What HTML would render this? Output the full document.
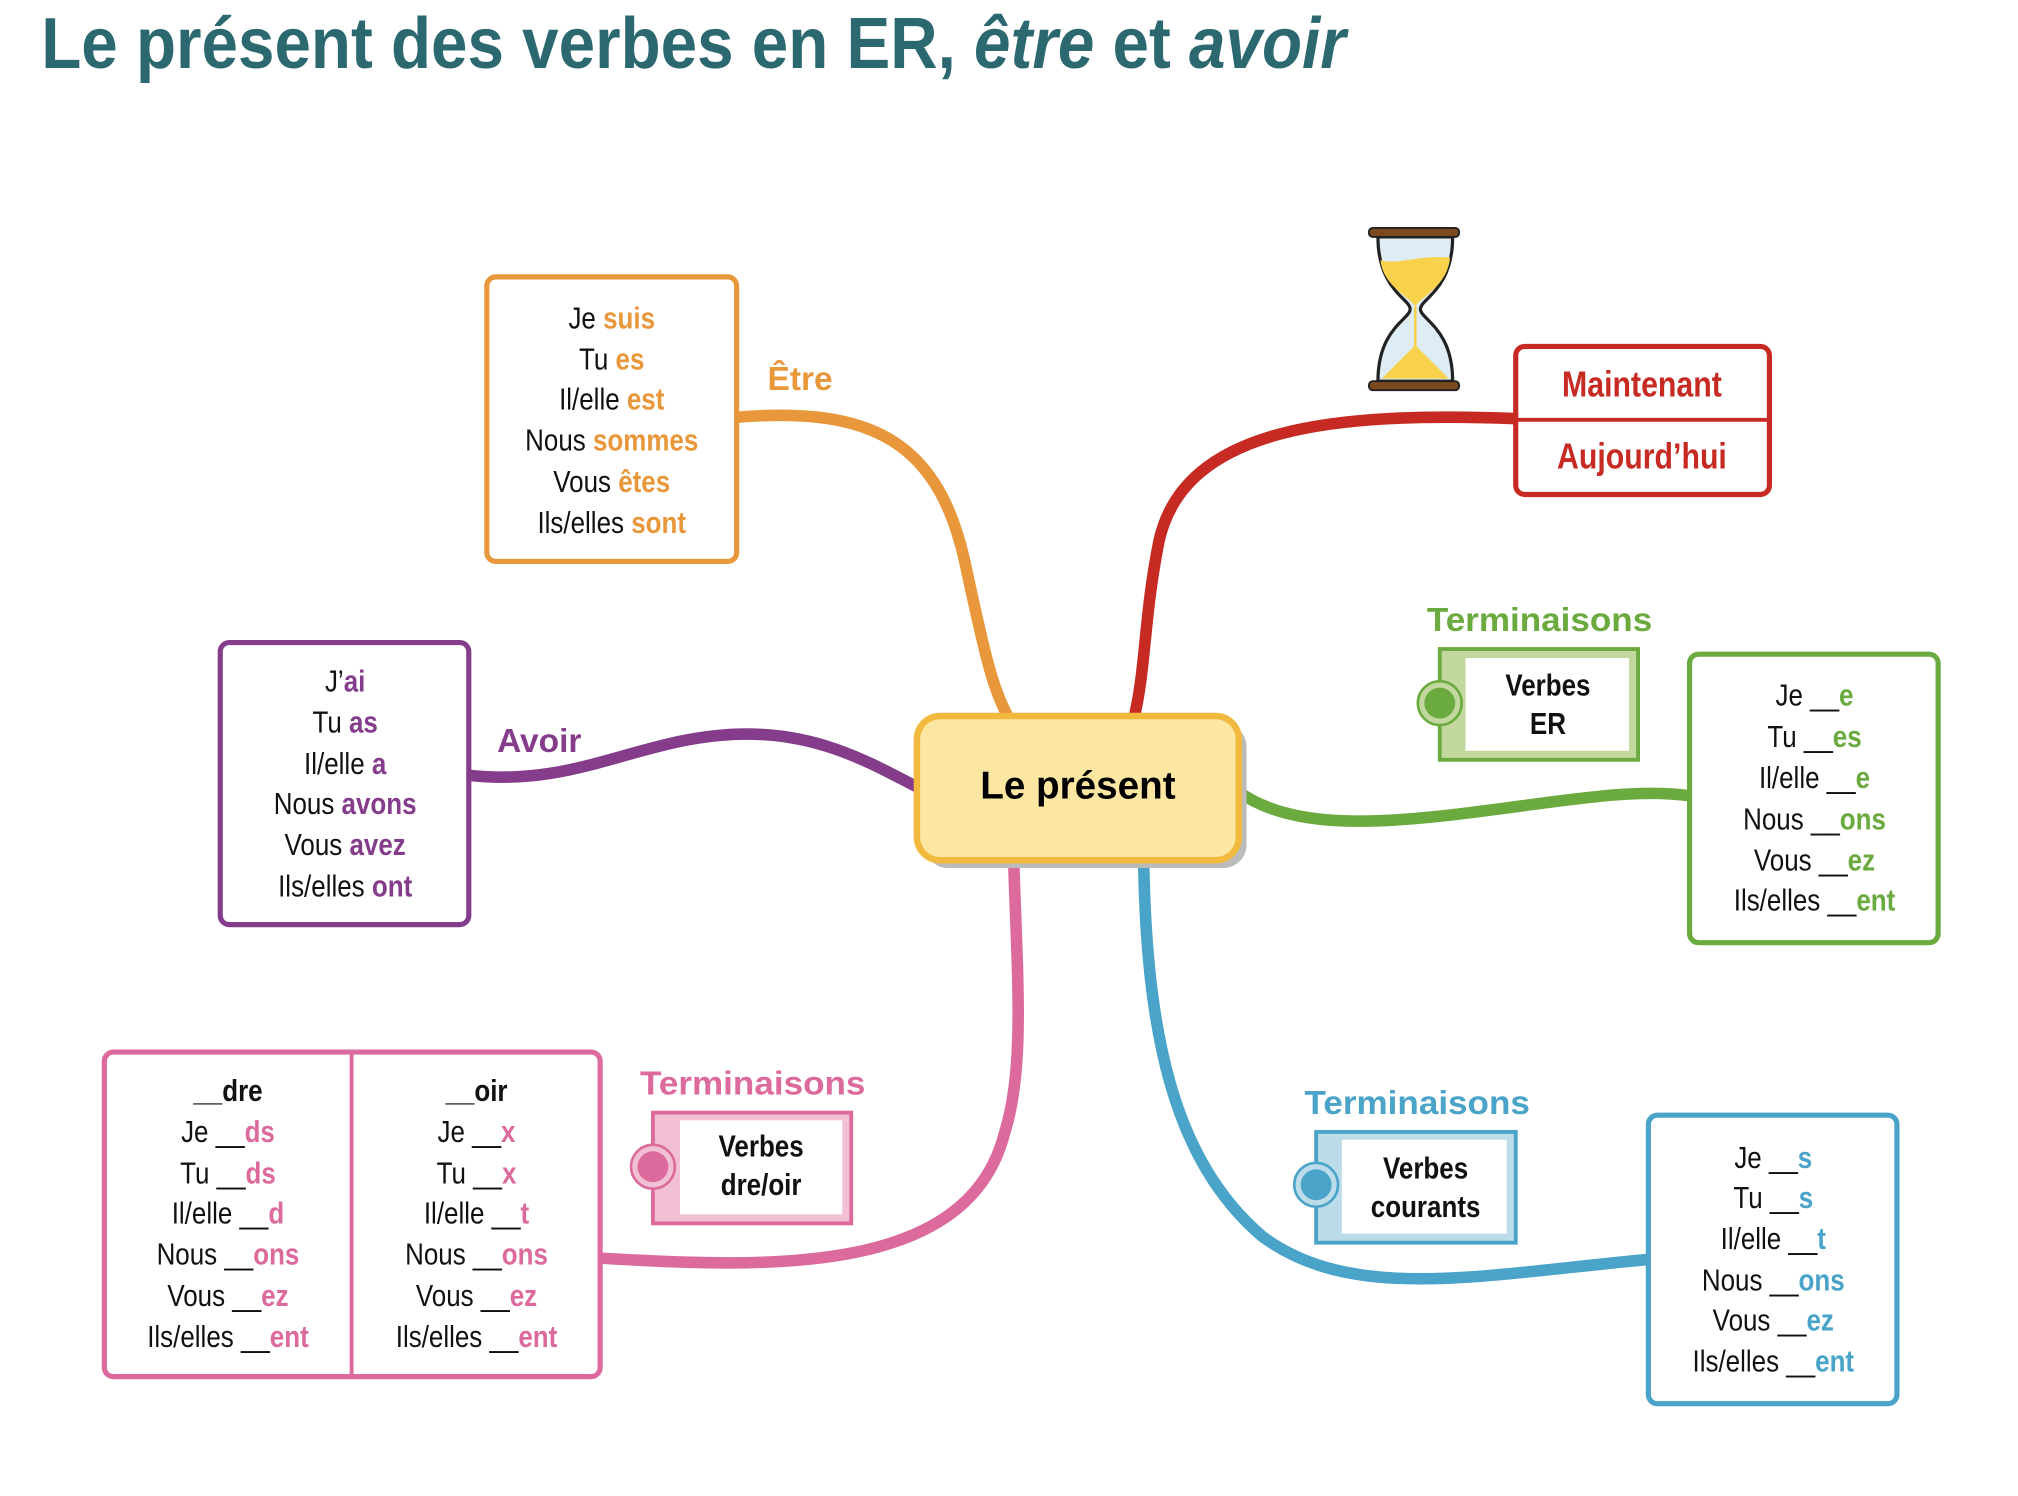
<!DOCTYPE html>
<html><head><meta charset="utf-8"><style>
html,body{margin:0;padding:0;background:#fff;}
svg{display:block;}
.c{font-family:"Liberation Sans",sans-serif;font-size:24px;text-anchor:middle;fill:#111;}
.b{font-weight:bold;}
.lab{font-family:"Liberation Sans",sans-serif;font-weight:bold;font-size:26px;}
</style></head><body>
<svg width="2018" height="1496" viewBox="0 0 1567 1161.7" xmlns="http://www.w3.org/2000/svg">
<rect width="1567" height="1162" fill="#fff"/>
<text x="32" y="53" font-family="Liberation Sans, sans-serif" font-weight="bold" font-size="56" fill="#2b6870" textLength="1013" lengthAdjust="spacingAndGlyphs">Le présent des verbes en ER, <tspan font-style="italic">être</tspan> et <tspan font-style="italic">avoir</tspan></text>

<g fill="none" stroke-width="9" stroke-linecap="round">
<path d="M572,324 C680,315 730,345 750,440 C765,510 772,540 785,560" stroke="#e8973a"/>
<path d="M1176,325 C1040,320 920,330 900,420 C888,480 890,520 880,560" stroke="#c62a22"/>
<path d="M364,602 C450,612 500,570 580,570 C640,570 680,595 714,612" stroke="#853d8b"/>
<path d="M962,615 C1000,642 1060,642 1150,630 C1220,621 1270,612 1312,618" stroke="#6aaa3f"/>
<path d="M787,665 C790,760 796,830 780,880 C752,990 600,985 466,977" stroke="#dc6a9c"/>
<path d="M888,665 C890,800 910,900 980,960 C1050,1012 1150,990 1280,978" stroke="#4aa3c8"/>
</g>

<rect x="718" y="562" width="250" height="112" rx="18" fill="#bbb"/>
<rect x="712" y="556" width="250" height="112" rx="18" fill="#fbe7a1" stroke="#f1b93e" stroke-width="5"/>
<text x="837" y="620" font-family="Liberation Sans, sans-serif" font-weight="bold" font-size="30" text-anchor="middle" fill="#000">Le présent</text>

<rect x="378" y="215" width="194" height="221" rx="7" fill="#fff" stroke="#e8973a" stroke-width="4"/>
<g class="c" transform="translate(475,0) scale(0.84,1)">
<text x="0" y="255">Je <tspan class="b" fill="#e8973a">suis</tspan></text>
<text x="0" y="287">Tu <tspan class="b" fill="#e8973a">es</tspan></text>
<text x="0" y="318">Il/elle <tspan class="b" fill="#e8973a">est</tspan></text>
<text x="0" y="350">Nous <tspan class="b" fill="#e8973a">sommes</tspan></text>
<text x="0" y="382">Vous <tspan class="b" fill="#e8973a">êtes</tspan></text>
<text x="0" y="414">Ils/elles <tspan class="b" fill="#e8973a">sont</tspan></text>
</g>
<text x="596" y="303" class="lab" fill="#e8973a">Être</text>

<path d="M1070,184 C1070,225 1095,232 1095,240 C1095,248 1070,255 1070,296 L1128,296 C1128,255 1103,248 1103,240 C1103,232 1128,225 1128,184 Z" fill="#deedf5" stroke="#222" stroke-width="2.5"/>
<path d="M1072,202 C1085,206 1100,198 1126,200 C1124,222 1104,230 1099,238 C1094,230 1074,222 1072,202 Z" fill="#f7d24a"/>
<path d="M1099,238 L1099,272" stroke="#f7d24a" stroke-width="2"/>
<path d="M1073,294 L1099,268 L1125,294 Z" fill="#f7d24a"/>
<rect x="1063" y="177" width="70" height="7" rx="3" fill="#7a4a1e" stroke="#222" stroke-width="1.5"/>
<rect x="1063" y="296" width="70" height="7" rx="3" fill="#7a4a1e" stroke="#222" stroke-width="1.5"/>

<rect x="1177" y="269" width="197" height="115" rx="7" fill="#fff" stroke="#c62a22" stroke-width="4"/>
<line x1="1177" y1="326" x2="1374" y2="326" stroke="#c62a22" stroke-width="3"/>
<g class="c b" transform="translate(1275,0) scale(0.84,1)">
<text x="0" y="308" fill="#c62a22" font-size="28">Maintenant</text>
<text x="0" y="364" fill="#c62a22" font-size="28">Aujourd’hui</text>
</g>

<rect x="171" y="499" width="193" height="219" rx="7" fill="#fff" stroke="#853d8b" stroke-width="4"/>
<g class="c" transform="translate(268,0) scale(0.84,1)">
<text x="0" y="537">J’<tspan class="b" fill="#853d8b">ai</tspan></text>
<text x="0" y="569">Tu <tspan class="b" fill="#853d8b">as</tspan></text>
<text x="0" y="601">Il/elle <tspan class="b" fill="#853d8b">a</tspan></text>
<text x="0" y="632">Nous <tspan class="b" fill="#853d8b">avons</tspan></text>
<text x="0" y="664">Vous <tspan class="b" fill="#853d8b">avez</tspan></text>
<text x="0" y="696">Ils/elles <tspan class="b" fill="#853d8b">ont</tspan></text>
</g>
<text x="386" y="584" class="lab" fill="#853d8b">Avoir</text>

<text x="1108" y="490" class="lab" fill="#6aaa3f" textLength="175" lengthAdjust="spacingAndGlyphs">Terminaisons</text>
<rect x="1118" y="504" width="154" height="86" fill="#c2d89f" stroke="#6aaa3f" stroke-width="3"/>
<rect x="1138" y="511" width="127" height="72" fill="#fff"/>
<circle cx="1118" cy="546" r="17" fill="#c2d89f" stroke="#6aaa3f" stroke-width="2"/>
<circle cx="1118" cy="546" r="12" fill="#6aaa3f"/>
<g class="c b" transform="translate(1202,0) scale(0.84,1)">
<text x="0" y="540">Verbes</text>
<text x="0" y="570">ER</text>
</g>
<rect x="1312" y="508" width="193" height="224" rx="7" fill="#fff" stroke="#6aaa3f" stroke-width="4"/>
<g class="c" transform="translate(1409,0) scale(0.84,1)">
<text x="0" y="548">Je __<tspan class="b" fill="#6aaa3f">e</tspan></text>
<text x="0" y="580">Tu __<tspan class="b" fill="#6aaa3f">es</tspan></text>
<text x="0" y="612">Il/elle __<tspan class="b" fill="#6aaa3f">e</tspan></text>
<text x="0" y="644">Nous __<tspan class="b" fill="#6aaa3f">ons</tspan></text>
<text x="0" y="676">Vous __<tspan class="b" fill="#6aaa3f">ez</tspan></text>
<text x="0" y="707">Ils/elles __<tspan class="b" fill="#6aaa3f">ent</tspan></text>
</g>

<text x="497" y="850" class="lab" fill="#dc6a9c" textLength="175" lengthAdjust="spacingAndGlyphs">Terminaisons</text>
<rect x="507" y="864" width="154" height="86" fill="#f1c0d5" stroke="#dc6a9c" stroke-width="3"/>
<rect x="528" y="870" width="126" height="73" fill="#fff"/>
<circle cx="507" cy="906" r="17" fill="#f1c0d5" stroke="#dc6a9c" stroke-width="2"/>
<circle cx="507" cy="906" r="12" fill="#dc6a9c"/>
<g class="c b" transform="translate(591,0) scale(0.84,1)">
<text x="0" y="898">Verbes</text>
<text x="0" y="928">dre/oir</text>
</g>
<rect x="81" y="817" width="385" height="252" rx="7" fill="#fff" stroke="#dc6a9c" stroke-width="4"/>
<line x1="273" y1="817" x2="273" y2="1069" stroke="#dc6a9c" stroke-width="3"/>
<g class="c" transform="translate(177,0) scale(0.84,1)">
<text x="0" y="855" class="b">__dre</text>
<text x="0" y="887">Je __<tspan class="b" fill="#dc6a9c">ds</tspan></text>
<text x="0" y="919">Tu __<tspan class="b" fill="#dc6a9c">ds</tspan></text>
<text x="0" y="950">Il/elle __<tspan class="b" fill="#dc6a9c">d</tspan></text>
<text x="0" y="982">Nous __<tspan class="b" fill="#dc6a9c">ons</tspan></text>
<text x="0" y="1014">Vous __<tspan class="b" fill="#dc6a9c">ez</tspan></text>
<text x="0" y="1046">Ils/elles __<tspan class="b" fill="#dc6a9c">ent</tspan></text>
</g>
<g class="c" transform="translate(370,0) scale(0.84,1)">
<text x="0" y="855" class="b">__oir</text>
<text x="0" y="887">Je __<tspan class="b" fill="#dc6a9c">x</tspan></text>
<text x="0" y="919">Tu __<tspan class="b" fill="#dc6a9c">x</tspan></text>
<text x="0" y="950">Il/elle __<tspan class="b" fill="#dc6a9c">t</tspan></text>
<text x="0" y="982">Nous __<tspan class="b" fill="#dc6a9c">ons</tspan></text>
<text x="0" y="1014">Vous __<tspan class="b" fill="#dc6a9c">ez</tspan></text>
<text x="0" y="1046">Ils/elles __<tspan class="b" fill="#dc6a9c">ent</tspan></text>
</g>

<text x="1013" y="865" class="lab" fill="#4aa3c8" textLength="175" lengthAdjust="spacingAndGlyphs">Terminaisons</text>
<rect x="1022" y="879" width="155" height="86" fill="#bcdcea" stroke="#4aa3c8" stroke-width="3"/>
<rect x="1042" y="885" width="128" height="73" fill="#fff"/>
<circle cx="1022" cy="920" r="17" fill="#bcdcea" stroke="#4aa3c8" stroke-width="2"/>
<circle cx="1022" cy="920" r="12" fill="#4aa3c8"/>
<g class="c b" transform="translate(1107,0) scale(0.84,1)">
<text x="0" y="915">Verbes</text>
<text x="0" y="945">courants</text>
</g>
<rect x="1280" y="866" width="193" height="224" rx="7" fill="#fff" stroke="#4aa3c8" stroke-width="4"/>
<g class="c" transform="translate(1377,0) scale(0.84,1)">
<text x="0" y="907">Je __<tspan class="b" fill="#4aa3c8">s</tspan></text>
<text x="0" y="938">Tu __<tspan class="b" fill="#4aa3c8">s</tspan></text>
<text x="0" y="970">Il/elle __<tspan class="b" fill="#4aa3c8">t</tspan></text>
<text x="0" y="1002">Nous __<tspan class="b" fill="#4aa3c8">ons</tspan></text>
<text x="0" y="1033">Vous __<tspan class="b" fill="#4aa3c8">ez</tspan></text>
<text x="0" y="1065">Ils/elles __<tspan class="b" fill="#4aa3c8">ent</tspan></text>
</g>
</svg>
</body></html>
